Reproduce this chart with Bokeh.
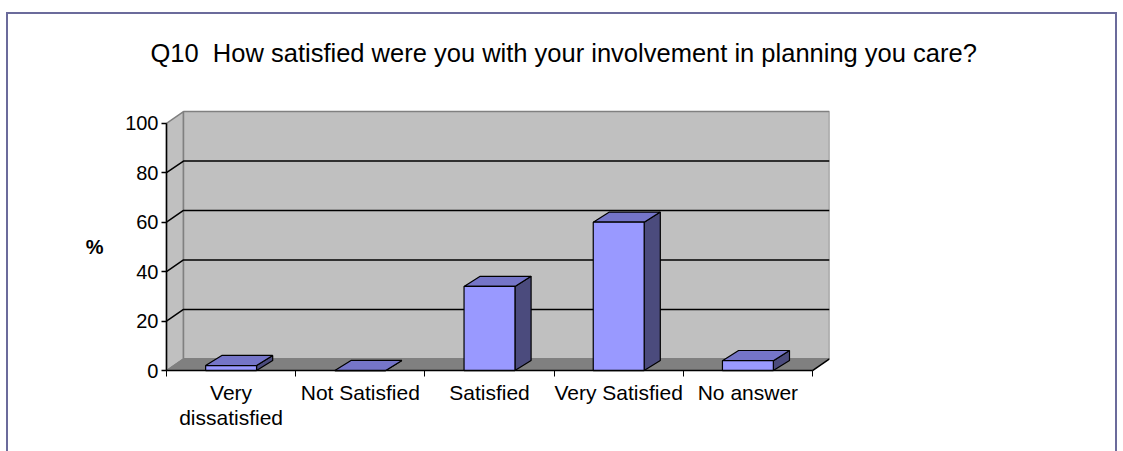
import numpy as np
from bokeh.plotting import figure
from bokeh.layouts import column
from bokeh.models import FixedTicker, Range1d, Title
from bokeh.core.properties import value
from bokeh.embed import file_html
from bokeh.resources import INLINE

# ---- data ----
categories = ["Very\ndissatisfied", "Not Satisfied", "Satisfied", "Very Satisfied", "No answer"]
values = [2, 0, 34, 60, 4]
y_ticks = [0, 20, 40, 60, 80, 100]
title_text = "Q10\u00a0 How satisfied were you with your involvement in planning you care?"
y_label = "%"

# ---- 3D geometry (data units) ----
N = len(categories)
DX, DY = 0.1316, 4.73          # wall depth
BDX, BDY = 0.125, 4.1          # bar depth
HW = 0.197                     # half bar width
YMAX = 100
Y_TOP = 117.3                  # invisible headroom above the wall
Y_BOT = -28.3                  # room below the category axis for its labels
X_LEFT = -0.8204               # room left of the value axis for its labels

FONT = "Liberation Sans"
BORDER = "2px solid #6B6B9B"

p = figure(width=1107, height=437, output_backend="svg", toolbar_location=None,
           x_range=Range1d(X_LEFT, N + DX), y_range=Range1d(Y_BOT, Y_TOP),
           min_border_left=52, min_border_right=286, min_border_top=66, min_border_bottom=11)
p.outline_line_color = None
p.grid.visible = False
p.background_fill_color = "white"

# side wall and back wall
p.patch([0, DX, DX, 0], [0, DY, YMAX + DY, YMAX], fill_color="#C0C0C0", line_color="#808080", line_width=1.5)
p.patch([DX, N + DX, N + DX, DX], [DY, DY, YMAX + DY, YMAX + DY], fill_color="#C0C0C0",
        line_color="#808080", line_width=1.5)
# floor
p.patch([0, N, N + DX, DX], [0, 0, DY, DY], fill_color="#808080", line_color="#808080", line_width=1)

# gridlines
for v in y_ticks[1:-1]:
    p.line([0, DX, N + DX], [v, v + DY, v + DY], line_color="black", line_width=1.5)
p.line([N, N + DX], [0, DY], line_color="black", line_width=1.5)

# bars
centers = np.arange(N) + 0.5
vals = np.array(values, dtype=float)
left = centers - HW
right = centers + HW
top_xs = [[l, r, r + BDX, l + BDX] for l, r in zip(left, right)]
top_ys = [[v, v, v + BDY, v + BDY] for v in vals]
side_xs = [[r, r + BDX, r + BDX, r] for r in right]
side_ys = [[0, BDY, v + BDY, v] for v in vals]
p.patches(side_xs, side_ys, fill_color="#4B4B7D", line_color="black", line_width=1.2)
p.patches(top_xs, top_ys, fill_color="#7575C8", line_color="black", line_width=1.2)
p.quad(left=left, right=right, bottom=0, top=vals, fill_color="#9999FF", line_color="black", line_width=1.2)

# "%" title of the value axis
p.text(x=[-0.557], y=[YMAX / 2], text=[y_label], text_align="center", text_baseline="middle",
       text_font=value(FONT), text_font_size="20px", text_font_style="bold", text_color="black")

# axes
xa = p.xaxis[0]
xa.fixed_location = 0
xa.ticker = FixedTicker(ticks=list(centers), minor_ticks=list(range(N + 1)))
xa.major_label_overrides = {float(c): lab for c, lab in zip(centers, categories)}
xa.bounds = (0, N)
xa.major_tick_out = 0
xa.major_tick_in = 0
xa.minor_tick_out = 6
xa.minor_tick_in = 0
xa.minor_tick_line_color = "black"
xa.axis_line_color = "black"
xa.axis_line_width = 1.5
xa.major_label_standoff = 4
xa.major_label_text_font = FONT
xa.major_label_text_font_size = "21px"
xa.major_label_text_line_height = 1.1
xa.major_label_text_color = "black"

ya = p.yaxis[0]
ya.fixed_location = 0
ya.ticker = FixedTicker(ticks=y_ticks, minor_ticks=[])
ya.bounds = (0, YMAX)
ya.major_tick_out = 5
ya.major_tick_in = 0
ya.major_tick_line_color = "black"
ya.major_tick_line_width = 1.5
ya.axis_line_color = "black"
ya.axis_line_width = 1.5
ya.major_label_standoff = 3
ya.major_label_text_font = FONT
ya.major_label_text_font_size = "20px"
ya.major_label_text_color = "black"

p.add_layout(Title(text=title_text, align="left", offset=90, text_font=FONT,
                   text_font_size="25.5px", text_font_style="normal", text_color="black",
                   standoff=28), "above")

layout = column(p, styles={"margin-left": "6px", "margin-top": "12px",
                           "border-left": BORDER, "border-top": BORDER, "border-right": BORDER})

open("out.html", "w").write(file_html(layout, INLINE))
